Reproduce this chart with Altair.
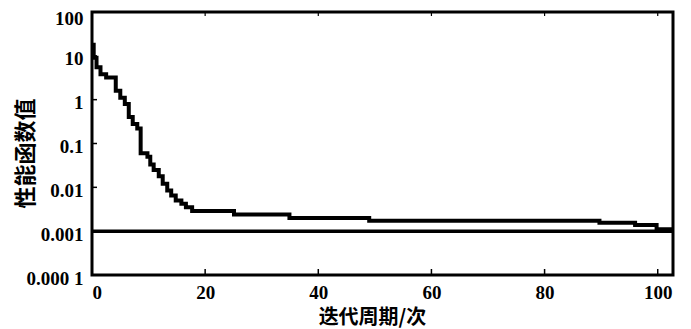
import altair as alt
import pandas as pd

# Performance curve (step-after)
iter_x = [0, 0.3, 0.8, 1.5, 2.5, 4.2, 5.0, 5.8, 6.5, 7.2,
          8.0, 8.6, 9.8, 10.3, 10.9, 11.8, 12.5, 13.3, 14.0, 14.8,
          15.8, 16.6, 17.7, 25.1, 34.9, 49.0, 89.7, 96.0, 99.8, 102.7]
perf_y = [18, 9, 5.5, 3.8, 3.2, 1.6, 1.1, 0.8, 0.4, 0.28,
          0.22, 0.06, 0.05, 0.033, 0.025, 0.018, 0.012, 0.0085, 0.0065, 0.005,
          0.0042, 0.0035, 0.0029, 0.0024, 0.0020, 0.00173, 0.00155, 0.00138, 0.0011, 0.0011]

goal_value = 0.001
x_max = 102.7

x_ticks = [0, 20, 40, 60, 80, 100]
y_ticks = [0.0001, 0.001, 0.01, 0.1, 1, 10, 100]
y_tick_labels = ["0.000 1", "0.001", "0.01", "0.1", "1", "10", "100"]

x_title = "迭代周期/次"
y_title = "性能函数值"

curve_df = pd.DataFrame({"x": iter_x, "y": perf_y})
goal_df = pd.DataFrame({"x": [0, x_max], "y": [goal_value, goal_value]})
xt_df = pd.DataFrame({"x": x_ticks})
yt_df = pd.DataFrame({"y": y_ticks})

# label expression built from tick arrays
expr = "''"
for v, lab in zip(reversed(y_ticks), reversed(y_tick_labels)):
    expr = f"datum.value < {v * 3} ? '{lab}' : ({expr})"

xscale = alt.Scale(domain=[0, x_max], nice=False)
yscale = alt.Scale(type="log", domain=[0.0001, 100], nice=False)

num_font = "Liberation Serif"
cjk_font = "Noto Sans CJK SC"

xaxis = alt.Axis(
    values=x_ticks, title=x_title, grid=False, domain=False, ticks=False,
    labelFont=num_font, labelFontWeight="bold", labelFontSize=19,
    labelColor="black", labelPadding=8,
    titleFont=cjk_font, titleFontWeight="bold", titleFontSize=20,
    titleColor="black", titleX=280, titleY=42, titleBaseline="middle")
yaxis = alt.Axis(
    values=y_ticks, labelExpr=expr, title=y_title, grid=False, domain=False,
    ticks=False, labelFont=num_font, labelFontWeight="bold", labelFontSize=19,
    labelColor="black", labelPadding=9,
    labelOffset={"condition": {"test": "datum.value > 50", "value": 6}, "value": 3},
    titleFont=cjk_font, titleFontWeight="bold", titleFontSize=22,
    titleColor="black", titleX=-67, titleY=141, titleBaseline="middle")

curve = alt.Chart(curve_df).mark_line(
    interpolate="step-after", color="black", strokeWidth=4
).encode(
    x=alt.X("x:Q", scale=xscale, axis=xaxis),
    y=alt.Y("y:Q", scale=yscale, axis=yaxis),
)

goal = alt.Chart(goal_df).mark_line(color="black", strokeWidth=3.5).encode(
    x=alt.X("x:Q", scale=xscale, axis=xaxis),
    y=alt.Y("y:Q", scale=yscale, axis=yaxis),
)

xt_bottom = alt.Chart(xt_df).mark_rule(color="black", strokeWidth=1.5).encode(
    x=alt.X("x:Q", scale=xscale, axis=xaxis), y=alt.value(263), y2=alt.value(257))
xt_top = alt.Chart(xt_df).mark_rule(color="black", strokeWidth=1.2).encode(
    x=alt.X("x:Q", scale=xscale, axis=xaxis), y=alt.value(0), y2=alt.value(4))
yt_left = alt.Chart(yt_df).mark_rule(color="black", strokeWidth=1.5).encode(
    y=alt.Y("y:Q", scale=yscale, axis=yaxis), x=alt.value(0), x2=alt.value(5))

chart = alt.layer(curve, goal, xt_bottom, xt_top, yt_left).properties(
    width=581, height=263,
    background="white",
    autosize=alt.AutoSizeParams(type="none"),
    padding={"left": 84, "top": 4, "right": 10, "bottom": 54},
).configure_view(stroke="black", strokeWidth=3)

chart.save("out.html", embed_options={"renderer": "svg", "actions": False})
